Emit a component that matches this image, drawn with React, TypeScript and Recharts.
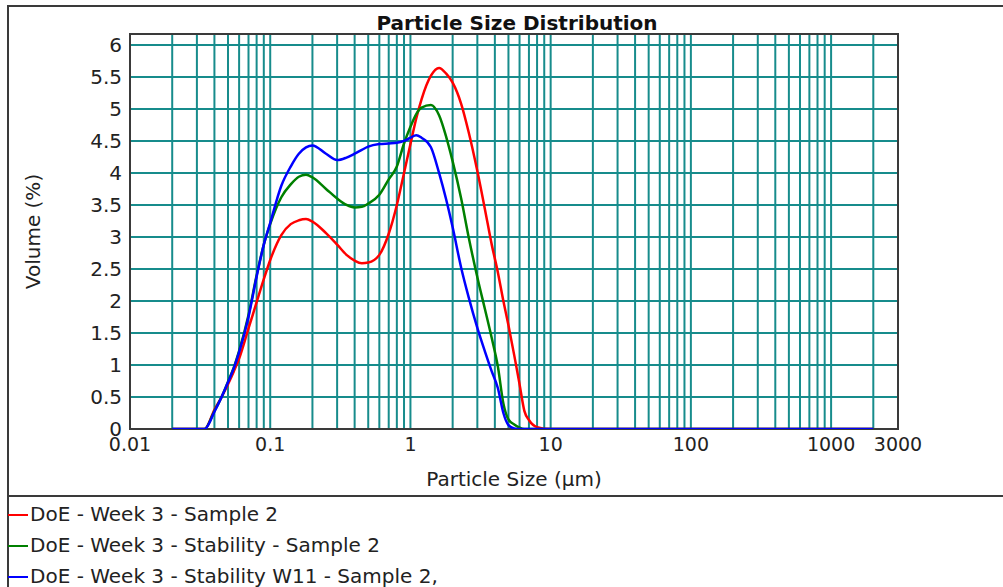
import { LineChart, Line, XAxis, YAxis, CartesianGrid, ReferenceArea, Label } from "recharts";

// particle size classes (µm)
const sizes = [
  0.02, 0.03, 0.034, 0.04, 0.045, 0.05, 0.055, 0.06, 0.07, 0.08,
  0.09, 0.1, 0.12, 0.14, 0.16, 0.18, 0.2, 0.25, 0.3, 0.35,
  0.4, 0.45, 0.5, 0.6, 0.7, 0.8, 0.9, 1, 1.1, 1.2,
  1.4, 1.6, 1.8, 2, 2.3, 2.6, 3, 3.4, 3.8, 4.2,
  4.6, 5, 5.5, 6, 6.5, 7, 8, 10, 20, 50,
  100, 200, 500, 1000, 2000,
];

// volume % per class
const sample2 = [
  0, 0, 0, 0.3, 0.5, 0.7, 0.9, 1.1, 1.57, 1.98,
  2.34, 2.64, 3.03, 3.2, 3.26, 3.28, 3.24, 3.06, 2.88, 2.72,
  2.63, 2.59, 2.6, 2.72, 3.05, 3.5, 4.0, 4.45, 4.85, 5.15,
  5.52, 5.64, 5.55, 5.41, 5.08, 4.64, 4.03, 3.43, 2.88, 2.45,
  2.0, 1.62, 1.15, 0.7, 0.28, 0.14, 0.03, 0, 0, 0,
  0, 0, 0, 0, 0,
];

const stability = [
  0, 0, 0, 0.28, 0.5, 0.74, 0.96, 1.22, 1.78, 2.4,
  2.88, 3.2, 3.62, 3.82, 3.94, 3.97, 3.93, 3.75, 3.6, 3.5,
  3.46, 3.47, 3.52, 3.66, 3.9, 4.1, 4.46, 4.72, 4.92, 5.02,
  5.06, 4.9, 4.56, 4.18, 3.6, 3.0, 2.37, 1.87, 1.42, 0.98,
  0.4, 0.15, 0.07, 0.02, 0, 0, 0, 0, 0, 0,
  0, 0, 0, 0, 0,
];

const stabilityW11 = [
  0, 0, 0, 0.27, 0.5, 0.73, 0.95, 1.2, 1.75, 2.38,
  2.88, 3.22, 3.8, 4.1, 4.3, 4.4, 4.43, 4.3, 4.2, 4.24,
  4.3, 4.36, 4.41, 4.45, 4.46, 4.47, 4.5, 4.55, 4.59, 4.55,
  4.4, 4.0, 3.58, 3.15, 2.52, 2.06, 1.58, 1.21, 0.9, 0.64,
  0.25, 0.06, 0.01, 0, 0, 0, 0, 0, 0, 0,
  0, 0, 0, 0, 0,
];

const seriesNames = [
  "DoE - Week 3 - Sample 2",
  "DoE - Week 3 - Stability - Sample 2",
  "DoE - Week 3 - Stability W11 - Sample 2,",
];

const xGridTicks = [
  0.01, 0.02, 0.03, 0.04, 0.05, 0.06, 0.07, 0.08, 0.09,
  0.1, 0.2, 0.3, 0.4, 0.5, 0.6, 0.7, 0.8, 0.9,
  1, 2, 3, 4, 5, 6, 7, 8, 9,
  10, 20, 30, 40, 50, 60, 70, 80, 90,
  100, 200, 300, 400, 500, 600, 700, 800, 900,
  1000, 2000, 3000,
];
const xLabelTicks = [0.01, 0.1, 1, 10, 100, 1000, 3000];
const yTicks = [0, 0.5, 1, 1.5, 2, 2.5, 3, 3.5, 4, 4.5, 5, 5.5, 6];

const data = sizes.map((size, i) => ({
  size,
  sample2: sample2[i],
  stability: stability[i],
  stabilityW11: stabilityW11[i],
}));

const lines = [
  { key: "sample2", color: "#ff0000" },
  { key: "stability", color: "#008000" },
  { key: "stabilityW11", color: "#0000ff" },
];

const frameColor = "#3a3a3a";
const gridColor = "#178c8c";
const font = '"DejaVu Sans", Verdana, sans-serif';

export default function App() {
  return (
    <div
      style={{
        position: "absolute",
        left: 0,
        top: 0,
        width: 1003,
        height: 587,
        background: "#fff",
        fontFamily: font,
        color: "#111",
        overflow: "hidden",
      }}
    >
      <LineChart
        width={1003}
        height={587}
        data={data}
        margin={{ top: 34, right: 105, bottom: 115, left: 0 }}
      >
        <CartesianGrid stroke={gridColor} strokeWidth={2} />
        <XAxis
          dataKey="size"
          type="number"
          scale="log"
          domain={[0.01, 3000]}
          allowDataOverflow
          ticks={xGridTicks}
          interval={0}
          tickFormatter={(v: number) => (xLabelTicks.includes(v) ? String(v) : "")}
          tickLine={false}
          axisLine={false}
          tickMargin={3}
          height={43}
          tick={{ fontSize: 19, fill: "#222" }}
        >
          <Label value="Particle Size (μm)" position="bottom" offset={0} style={{ fontSize: 20, fill: "#222" }} />
        </XAxis>
        <YAxis
          type="number"
          domain={[0, 6.17]}
          allowDataOverflow
          ticks={yTicks}
          interval={0}
          tickLine={false}
          axisLine={false}
          width={130}
          tick={{ fontSize: 20, fill: "#222" }}
        >
          <Label
            value="Volume (%)"
            angle={-90}
            position="insideLeft"
            offset={33}
            style={{ fontSize: 20, fill: "#222", textAnchor: "middle" }}
          />
        </YAxis>
        <ReferenceArea x1={0.01} x2={3000} y1={0} y2={6.17} fill="none" stroke={frameColor} strokeWidth={2} />
        {lines.map((l) => (
          <Line
            key={l.key}
            dataKey={l.key}
            type="monotone"
            stroke={l.color}
            strokeWidth={2.5}
            dot={false}
            activeDot={false}
            isAnimationActive={false}
          />
        ))}
      </LineChart>

      {/* outer frame + legend separator */}
      <div style={{ position: "absolute", left: 7, top: 5, right: 0, height: 2, background: frameColor }} />
      <div style={{ position: "absolute", left: 7, top: 5, width: 2, bottom: 0, background: frameColor }} />
      <div style={{ position: "absolute", left: 7, top: 495, right: 0, height: 2, background: frameColor }} />

      <div
        style={{
          position: "absolute",
          left: 317,
          width: 400,
          top: 13,
          textAlign: "center",
          fontSize: 20,
          lineHeight: "20px",
          fontWeight: "bold",
          color: "#111",
        }}
      >
        Particle Size Distribution
      </div>

      <div style={{ position: "absolute", left: 8, top: 499 }}>
        {seriesNames.map((name, i) => (
          <div
            key={name}
            style={{ display: "flex", alignItems: "center", height: 31, fontSize: 20, lineHeight: "31px", color: "#222" }}
          >
            <span style={{ display: "inline-block", width: 20, height: 2, background: lines[i].color, marginRight: 2 }} />
            <span>{name}</span>
          </div>
        ))}
      </div>
    </div>
  );
}
